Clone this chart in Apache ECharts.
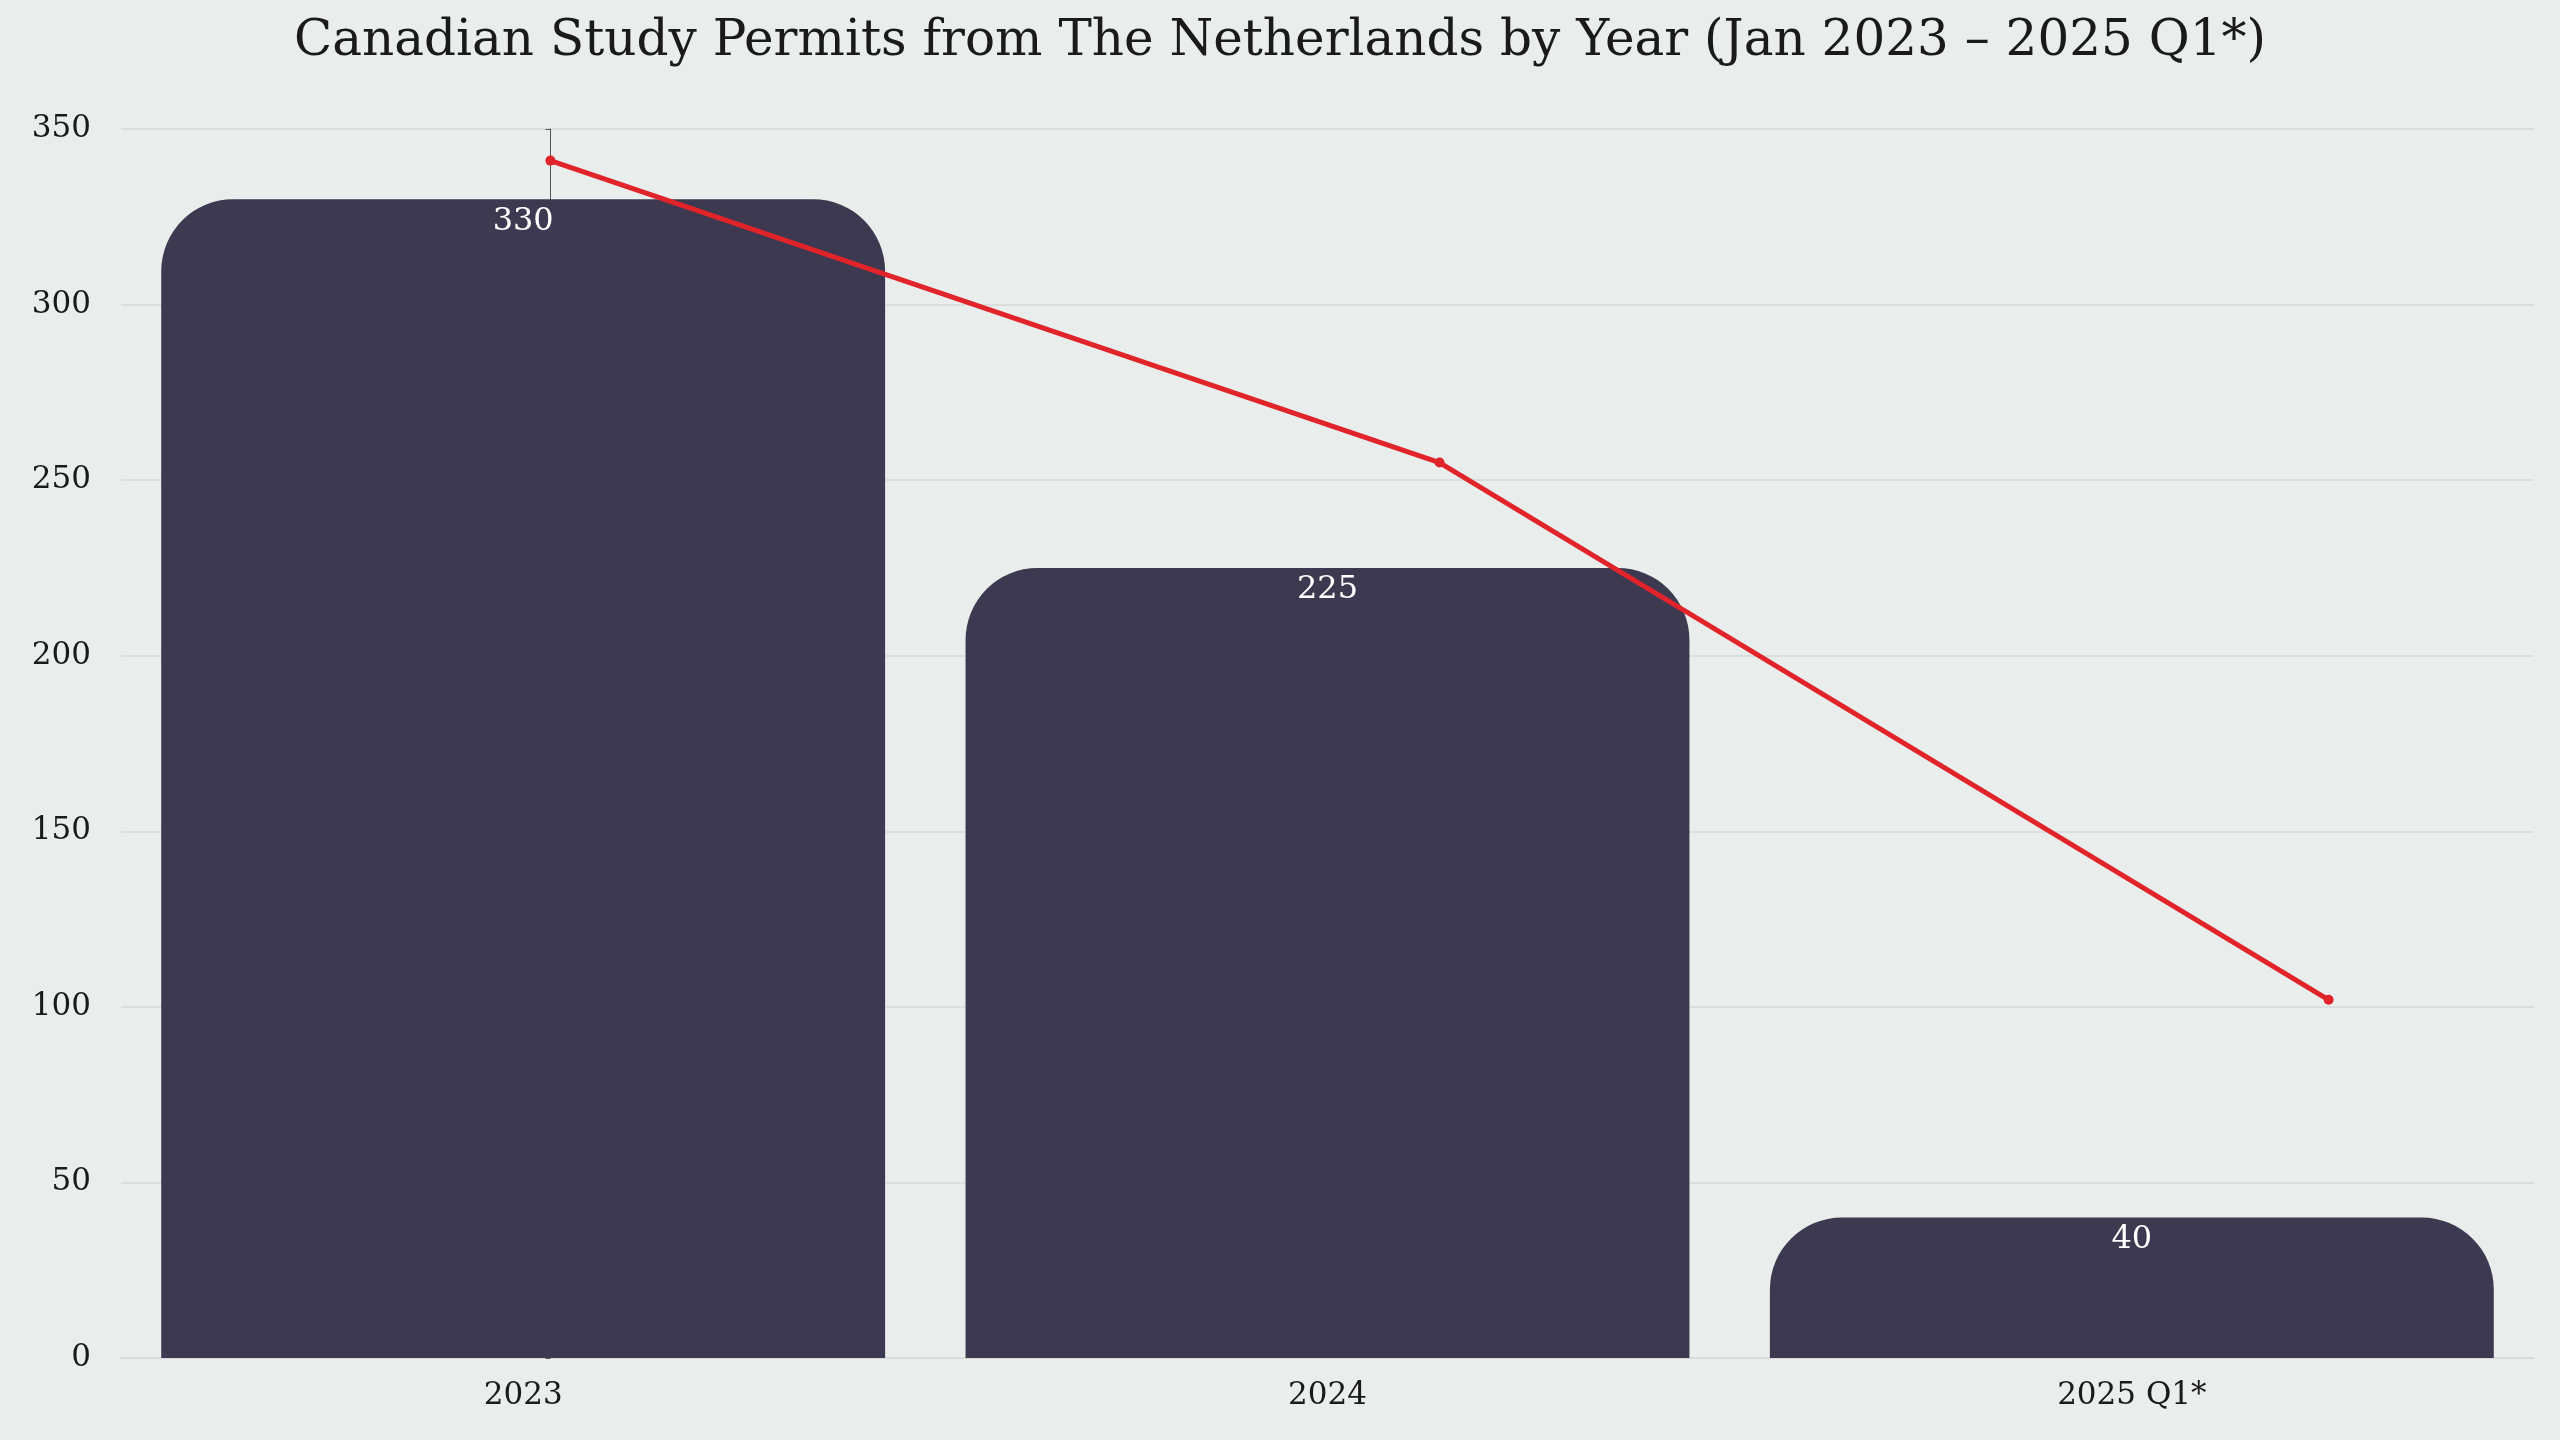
<!DOCTYPE html>
<html><head><meta charset="utf-8">
<script src="https://cdn.jsdelivr.net/npm/echarts@6/dist/echarts.min.js"></script>
<style>html,body{margin:0;padding:0;background:#e9edeb}#c{width:2560px;height:1440px}</style>
</head><body><div id="c"></div>
<script>
const categories = ['2023', '2024', '2025 Q1*'];
const permits = [330, 225, 40];
const trend = [341, 255, 102];
const trendX = [0, 1, 2];
const yTicks = [0, 50, 100, 150, 200, 250, 300, 350];

const font = 'DejaVu Serif';
const chart = echarts.init(document.getElementById('c'));
chart.setOption({
  backgroundColor: '#e9edeb',
  textStyle: { fontFamily: font },
  title: { text: 'Canadian Study Permits from The Netherlands by Year (Jan 2023 – 2025 Q1*)', left: 'center', top: 12,
    textStyle: { fontFamily: font, fontSize: 50, fontWeight: 'normal', color: '#1a1a1a' } },
  grid: { left: 121, right: 26, top: 129, bottom: 82, containLabel: false },
  xAxis: [
    { type: 'category', data: categories, axisTick: { show: false },
      axisLine: { lineStyle: { color: '#d5d9d8' } },
      axisLabel: { fontFamily: font, fontSize: 31, color: '#1a1a1a', margin: 22 } },
    { type: 'value', show: false, min: -0.483, max: 2.231 }
  ],
  yAxis: { type: 'value', min: 0, max: yTicks[yTicks.length - 1], interval: 50,
    axisLabel: { fontFamily: font, fontSize: 31, color: '#1a1a1a', margin: 30 },
    splitLine: { lineStyle: { color: '#d5d9d8', width: 1.5 } } },
  series: [
    { type: 'bar', data: permits, barCategoryGap: '10%', xAxisIndex: 0,
      itemStyle: { color: '#3d3950', borderRadius: [72, 72, 0, 0] },
      label: { show: true, position: 'insideTop', distance: 6, color: '#ffffff', fontFamily: font, fontSize: 32 } },
    { type: 'line', xAxisIndex: 1, data: trendX.map((x, i) => [x, trend[i]]),
      symbol: 'circle', symbolSize: 10, lineStyle: { color: '#e0242a', width: 5 },
      itemStyle: { color: '#e0242a' }, z: 5 }
  ]
});
</script></body></html>
